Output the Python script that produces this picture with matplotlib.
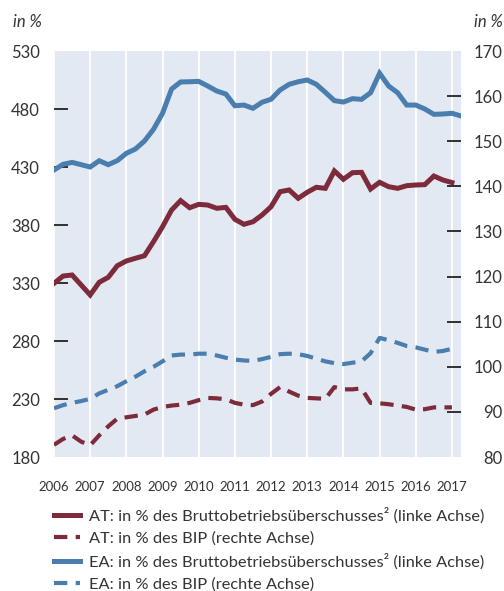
import matplotlib as mpl
mpl.use('Agg')
import matplotlib.pyplot as plt
from matplotlib.lines import Line2D

plt.rcParams['font.family'] = ['Lato', 'DejaVu Sans']

# quarterly data, 2006Q1 ...
years = ['2006', '2007', '2008', '2009', '2010', '2011', '2012',
         '2013', '2014', '2015', '2016', '2017']

# AT: in % of gross operating surplus (left axis), 2006Q1-2017Q1
at_gos = [329.7, 336.0, 336.9, 328.3, 319.7, 330.6, 334.9, 344.9,
          349.0, 351.3, 353.5, 365.6, 378.5, 392.9, 401.0, 394.9,
          397.8, 397.2, 394.4, 395.2, 384.9, 380.6, 382.8, 388.6,
          395.8, 408.7, 410.2, 403.0, 408.2, 412.5, 411.6, 426.6,
          419.4, 425.1, 425.4, 411.0, 416.8, 413.0, 411.6, 413.9,
          414.5, 414.8, 422.2, 418.8, 416.6]
# AT: in % of GDP (right axis)
at_gdp = [82.7, 84.0, 84.8, 83.4, 82.6, 84.8, 86.8, 88.5,
          88.8, 89.1, 89.4, 90.5, 91.1, 91.4, 91.6, 92.0,
          92.6, 93.1, 93.0, 92.8, 92.0, 91.6, 91.5, 92.3,
          94.0, 95.5, 94.5, 93.6, 93.1, 93.0, 92.9, 95.5,
          95.0, 95.0, 95.2, 92.0, 91.9, 91.7, 91.4, 91.1,
          90.5, 90.6, 91.0, 91.0, 91.0]
# EA: in % of gross operating surplus (left axis), 2006Q1-2017Q2
ea_gos = [427.4, 432.3, 434.0, 432.0, 430.0, 435.4, 432.0, 435.5,
          441.8, 445.5, 452.4, 462.5, 476.3, 497.2, 503.3, 503.5,
          503.8, 499.8, 495.5, 492.9, 482.8, 483.4, 480.6, 485.8,
          488.4, 496.4, 501.3, 503.5, 505.0, 501.3, 494.4, 487.2,
          486.0, 488.9, 488.3, 494.0, 510.8, 499.8, 494.0, 483.4,
          483.4, 480.0, 475.4, 475.7, 476.3, 474.0]
# EA: in % of GDP (right axis)
ea_gdp = [90.8, 91.5, 92.0, 92.4, 92.9, 94.1, 94.9, 95.7,
          96.8, 97.8, 99.0, 100.0, 101.2, 102.5, 102.7, 102.7,
          102.9, 102.9, 102.5, 102.0, 101.6, 101.4, 101.3, 101.7,
          102.2, 102.8, 102.9, 102.8, 102.4, 101.8, 101.2, 100.8,
          100.6, 100.9, 101.2, 103.0, 106.4, 105.9, 105.3, 104.6,
          104.3, 103.8, 103.3, 103.5, 104.0]

labels = ['AT: in % des Bruttobetriebsüberschusses² (linke Achse)',
          'AT: in % des BIP (rechte Achse)',
          'EA: in % des Bruttobetriebsüberschusses² (linke Achse)',
          'EA: in % des BIP (rechte Achse)']

c_at = '#7d2a3b'
c_ea = '#4a7eae'
txt = '#333333'

fig = plt.figure(figsize=(5.04, 5.91), dpi=100)
ax = fig.add_axes([54 / 504, 1 - 457 / 591, 407 / 504, 406 / 591])
ax.set_facecolor('#e3e9f2')
ax2 = ax.twinx()

lw_solid = 3.6
lw_dash = 3.0
dash = (3.2, 2.0)

ax.plot(range(len(at_gos)), at_gos, color=c_at, lw=lw_solid, solid_joinstyle='miter')
ax.plot(range(len(ea_gos)), ea_gos, color=c_ea, lw=lw_solid, solid_joinstyle='miter')
ax2.plot(range(len(at_gdp)), at_gdp, color=c_at, lw=lw_dash, dashes=dash)
ax2.plot(range(len(ea_gdp)), ea_gdp, color=c_ea, lw=lw_dash, dashes=dash)

ax.set_xlim(0, 45)
ax.set_ylim(180, 530)
ax2.set_ylim(80, 170)
ax.set_xticks(range(0, 4 * len(years), 4))
ax.set_xticklabels(years)
ax.set_yticks(range(180, 531, 50))
ax2.set_yticks(range(80, 171, 10))
ax.grid(axis='x', color='white', lw=1.3)
ax.set_axisbelow(True)

for a in (ax, ax2):
    for s in a.spines.values():
        s.set_visible(False)
ax.tick_params(axis='x', length=0, pad=17, labelsize=9.5, labelcolor=txt)
ax.tick_params(axis='y', direction='in', length=10, width=1.3, color='#222222',
               pad=10, labelsize=12, labelcolor=txt)
ax2.tick_params(axis='y', direction='in', length=10, width=1.3, color='#222222',
                pad=30, labelsize=12, labelcolor=txt)
for t in ax2.get_yticklabels():
    t.set_ha('right')
# no tick marks at the top and bottom of the axes
for a in (ax, ax2):
    tks = a.yaxis.get_major_ticks()
    for t in (tks[0], tks[-1]):
        t.tick1line.set_visible(False)
        t.tick2line.set_visible(False)

fig.text(13 / 504, 1 - 22 / 591, 'in %', ha='left', va='center', fontsize=12,
         style='italic', color=txt)
fig.text(503 / 504, 1 - 22 / 591, 'in %', ha='right', va='center', fontsize=12,
         style='italic', color=txt)

handles = [Line2D([], [], color=c_at, lw=lw_solid),
           Line2D([], [], color=c_at, lw=lw_dash, dashes=dash),
           Line2D([], [], color=c_ea, lw=lw_solid),
           Line2D([], [], color=c_ea, lw=lw_dash, dashes=dash)]
leg = fig.legend(handles, labels, loc='upper left', bbox_to_anchor=(46 / 504, 1 - 499 / 591),
                 frameon=False, fontsize=11.8, handlelength=1.55, handletextpad=0.55,
                 labelspacing=0.47, borderpad=0, labelcolor=txt)

fig.savefig('out.png', dpi=100)
